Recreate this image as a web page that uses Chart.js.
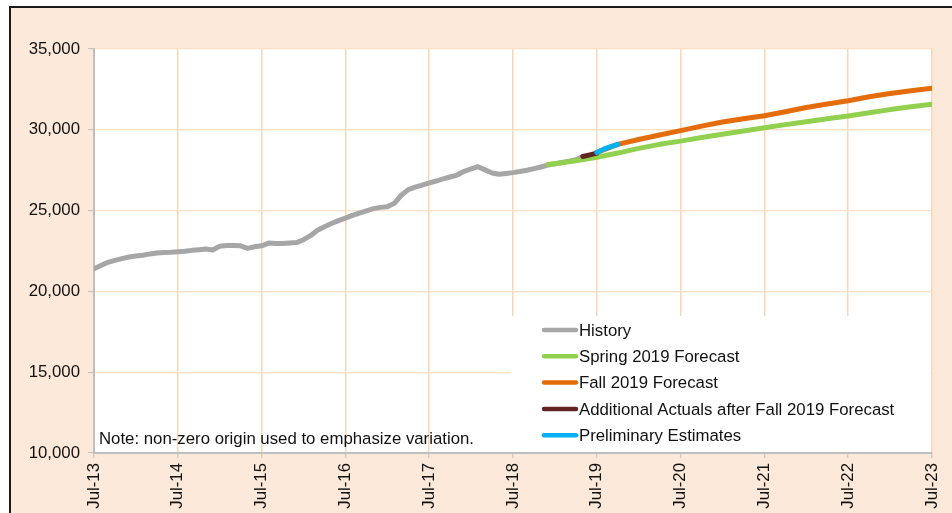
<!DOCTYPE html>
<html>
<head>
<meta charset="utf-8">
<script src="https://cdn.jsdelivr.net/npm/chart.js@4.4.1/dist/chart.umd.min.js"></script>
<style>
  html, body { margin: 0; padding: 0; background: #fff; overflow: hidden; }
  #frame {
    position: absolute; left: 9px; top: 6px; width: 980px; height: 540px;
    background: #fde9d9; border-left: 2px solid #1a1a1a; border-top: 2px solid #1a1a1a;
  }
  #wrap { position: absolute; left: 0; top: 0; width: 952px; height: 513px; }
</style>
</head>
<body>
<div id="frame"></div>
<div id="wrap"><canvas id="myChart" width="952" height="513"></canvas></div>
<script>
// x values are months counted from Jul-13
const yearLabels = ['Jul-13', 'Jul-14', 'Jul-15', 'Jul-16', 'Jul-17', 'Jul-18',
  'Jul-19', 'Jul-20', 'Jul-21', 'Jul-22', 'Jul-23'];

// monthly, Jul-13 .. May-19
const historyValues = [
  21400, 21600, 21800, 21920, 22030, 22130, 22190, 22240, 22320, 22370, 22410, 22430,
  22460, 22480, 22540, 22580, 22620, 22560, 22800, 22840, 22840, 22820, 22660, 22760,
  22820, 22990, 22960, 22960, 23000, 23020, 23200, 23450, 23780, 24000, 24200, 24380,
  24530, 24700, 24850, 24990, 25120, 25200, 25240, 25450, 25950, 26300, 26450, 26580,
  26720, 26830, 26960, 27080, 27200, 27430, 27580, 27720, 27520, 27330, 27250, 27300,
  27350, 27420, 27500, 27600, 27700, 27820, 27900, 27980, 28060, 28150, 28350
];

const springMonths = [65, 66, 69, 72, 75, 78, 81, 84, 87, 90, 93, 96, 99, 102, 105, 108, 111, 114, 117, 120];
const springValues = [27850, 27900, 28080, 28300, 28560, 28850, 29100, 29300, 29520, 29730,
  29930, 30130, 30320, 30500, 30680, 30850, 31050, 31250, 31420, 31580];

const fallMonths = [72, 75, 78, 81, 84, 87, 90, 93, 96, 99, 102, 105, 108, 111, 114, 117, 120];
const fallValues = [28600, 29100, 29400, 29680, 29950, 30230, 30480, 30680, 30870, 31120,
  31380, 31600, 31800, 32050, 32250, 32420, 32580];

const actualsMonths = [70, 71, 72];
const actualsValues = [28350, 28450, 28560];

const prelimMonths = [72, 73, 74, 75];
const prelimValues = [28600, 28800, 28960, 29100];

const toPoints = (xs, ys) => xs.map((x, i) => ({ x, y: ys[i] }));
const historyPoints = historyValues.map((y, i) => ({ x: i, y }));

const FONT = '"Liberation Sans", Arial, sans-serif';
const FSIZE = 16.8;

const series = [
  { label: 'History', color: '#a6a6a6', data: historyPoints, order: 5 },
  { label: 'Spring 2019 Forecast', color: '#92d050', data: toPoints(springMonths, springValues), order: 4 },
  { label: 'Fall 2019 Forecast', color: '#e46c0a', data: toPoints(fallMonths, fallValues), order: 3 },
  { label: 'Additional Actuals after Fall 2019 Forecast', color: '#632523', data: toPoints(actualsMonths, actualsValues), order: 2 },
  { label: 'Preliminary Estimates', color: '#00b0f0', data: toPoints(prelimMonths, prelimValues), order: 1 },
];

// white plot, legend box inside plot, note text
const boxPlugin = {
  id: 'boxes',
  beforeDraw(chart) {
    const { ctx, chartArea: a } = chart;
    ctx.save();
    ctx.fillStyle = '#fff';
    ctx.fillRect(a.left, a.top, a.right - a.left, a.bottom - a.top);
    ctx.restore();
  },
  beforeDatasetsDraw(chart) {
    const { ctx, chartArea: a } = chart;
    ctx.save();
    ctx.fillStyle = '#fff';
    ctx.fillRect(511, 316, a.right - 511 - 2, a.bottom - 316 - 1);
    ctx.font = FSIZE + 'px ' + FONT;
    ctx.textBaseline = 'middle';
    series.forEach((s, i) => {
      const y = 330 + i * 26.3;
      ctx.strokeStyle = s.color;
      ctx.lineWidth = 4.5;
      ctx.lineCap = 'round';
      ctx.beginPath();
      ctx.moveTo(544, y);
      ctx.lineTo(576, y);
      ctx.stroke();
      ctx.fillStyle = '#111';
      ctx.fillText(s.label, 579, y + 1);
    });
    ctx.restore();
  },
  afterDraw(chart) {
    const { ctx } = chart;
    ctx.save();
    ctx.font = FSIZE + 'px ' + FONT;
    ctx.fillStyle = '#111';
    ctx.textBaseline = 'middle';
    ctx.fillText('Note: non-zero origin used to emphasize variation.', 99, 439);
    ctx.restore();
  }
};

const chart = new Chart(document.getElementById('myChart'), {
  type: 'line',
  data: {
    datasets: series.map((s) => ({
      label: s.label,
      data: s.data,
      borderColor: s.color,
      backgroundColor: s.color,
      borderWidth: 5,
      pointRadius: 0,
      tension: 0,
      fill: false,
      borderCapStyle: 'round',
      borderJoinStyle: 'round',
      order: s.order,
    })),
  },
  options: {
    responsive: false,
    animation: false,
    layout: { padding: { left: 0, top: 49, right: 20, bottom: 0 } },
    plugins: {
      legend: { display: false },
      tooltip: { enabled: false },
    },
    scales: {
      x: {
        type: 'linear',
        min: 0,
        max: 120,
        afterFit: (scale) => {
          scale.height = 60;
          scale.paddingLeft = 0;
          scale.paddingRight = 0;
        },
        afterBuildTicks: (scale) => {
          scale.ticks = yearLabels.map((_, i) => ({ value: i * 12 }));
        },
        ticks: {
          autoSkip: false,
          minRotation: 90,
          maxRotation: 90,
          padding: 5,
          color: '#111',
          font: { family: FONT, size: FSIZE },
          callback: (v) => yearLabels[Math.round(v / 12)],
        },
        grid: { color: '#fad6b6', lineWidth: 1.5, tickColor: '#bfbfbf', tickLength: 5, tickWidth: 1 },
        border: { color: '#bfbfbf', width: 2 },
      },
      y: {
        min: 10000,
        max: 35000,
        afterFit: (scale) => { scale.width = 94; },
        ticks: {
          stepSize: 5000,
          padding: 8,
          color: '#111',
          font: { family: FONT, size: FSIZE },
          callback: (v) => v.toLocaleString('en-US'),
        },
        grid: { color: '#fbdfc6', lineWidth: 1.25, tickColor: '#bfbfbf', tickLength: 6, tickWidth: 1 },
        border: { color: '#bfbfbf', width: 2 },
      },
    },
  },
  plugins: [boxPlugin],
});
</script>
</body>
</html>
